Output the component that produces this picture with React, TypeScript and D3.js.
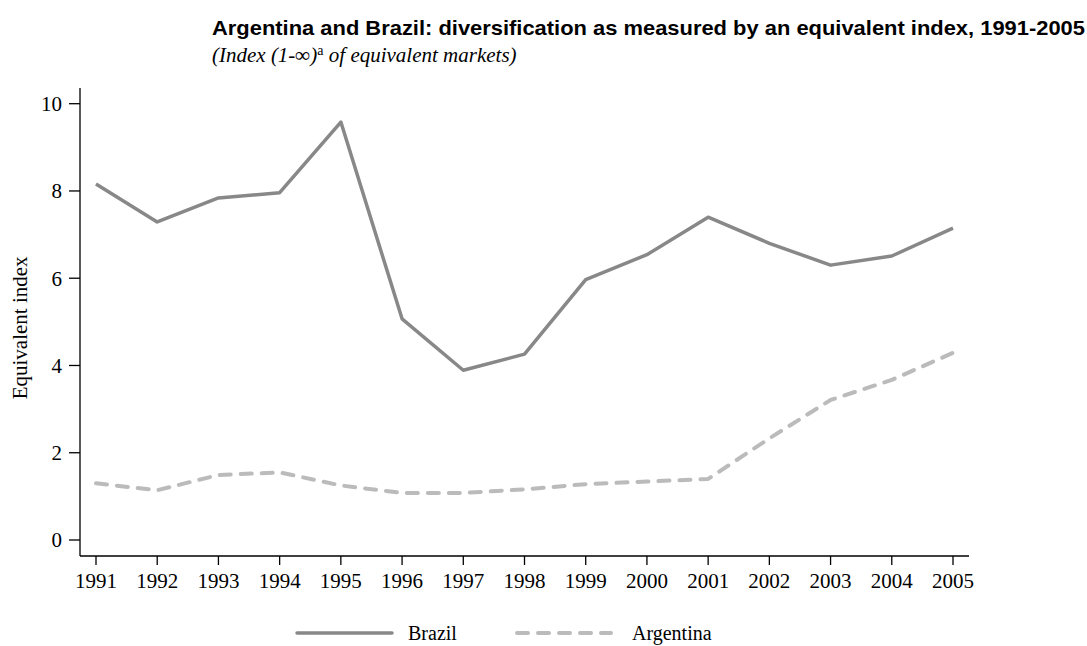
import { useEffect, useRef } from 'react';
import * as d3 from 'd3';

const YEARS = [1991, 1992, 1993, 1994, 1995, 1996, 1997, 1998, 1999, 2000, 2001, 2002, 2003, 2004, 2005];
const BRAZIL = [8.16, 7.29, 7.84, 7.96, 9.58, 5.07, 3.89, 4.26, 5.97, 6.54, 7.4, 6.8, 6.3, 6.51, 7.15];
const ARGENTINA = [1.3, 1.14, 1.49, 1.55, 1.25, 1.08, 1.08, 1.16, 1.28, 1.34, 1.4, 2.33, 3.21, 3.67, 4.29];
const Y_TICKS = [0, 2, 4, 6, 8, 10];

const SERIES = [
  { name: 'Brazil', values: BRAZIL, color: '#888888', width: 3.5, dash: null as string | null },
  { name: 'Argentina', values: ARGENTINA, color: '#bbbbbb', width: 4, dash: '11,10' },
];

const W = 1087;
const H = 646;
const SERIF = '"Liberation Serif", "Times New Roman", serif';
const SANS = '"Liberation Sans", Arial, sans-serif';

export default function App() {
  const svgRef = useRef<SVGSVGElement>(null);

  useEffect(() => {
    if (!svgRef.current) return;
    const svg = d3.select(svgRef.current);
    svg.selectAll('*').remove();

    const x = d3.scaleLinear().domain([1991, 2005]).range([96, 953]);
    const y = d3.scaleLinear().domain([0, 10]).range([540, 103.7]);
    const axisX = 80;
    const axisY = 556;

    // title + subtitle
    svg.append('text')
      .attr('x', 1085)
      .attr('y', 35)
      .attr('text-anchor', 'end')
      .attr('font-family', SANS)
      .attr('font-weight', 'bold')
      .attr('font-size', 21)
      .attr('textLength', 873)
      .attr('lengthAdjust', 'spacingAndGlyphs')
      .attr('fill', '#000')
      .text('Argentina and Brazil: diversification as measured by an equivalent index, 1991-2005');

    const sub = svg.append('text')
      .attr('x', 212)
      .attr('y', 62)
      .attr('font-family', SERIF)
      .attr('font-style', 'italic')
      .attr('font-size', 21)
      .attr('fill', '#000');
    sub.append('tspan').text('(Index (1-∞)');
    sub.append('tspan').attr('font-style', 'normal').attr('font-size', 14).attr('dy', -7).text('a');
    sub.append('tspan').attr('dy', 7).text(' of equivalent markets)');

    // axes
    const axes = svg.append('g').attr('stroke', '#000').attr('stroke-width', 1.3);
    axes.append('line').attr('x1', axisX).attr('x2', axisX).attr('y1', 88).attr('y2', axisY);
    axes.append('line').attr('x1', axisX).attr('x2', 969).attr('y1', axisY).attr('y2', axisY);

    Y_TICKS.forEach(t => {
      axes.append('line').attr('x1', 69).attr('x2', axisX).attr('y1', y(t)).attr('y2', y(t));
      svg.append('text')
        .attr('x', 62)
        .attr('y', y(t))
        .attr('dy', '0.35em')
        .attr('text-anchor', 'end')
        .attr('font-family', SERIF)
        .attr('font-size', 21)
        .text(t);
    });

    YEARS.forEach(yr => {
      axes.append('line').attr('x1', x(yr)).attr('x2', x(yr)).attr('y1', axisY).attr('y2', axisY + 9);
      svg.append('text')
        .attr('x', x(yr))
        .attr('y', 588)
        .attr('text-anchor', 'middle')
        .attr('font-family', SERIF)
        .attr('font-size', 21)
        .text(yr);
    });

    svg.append('text')
      .attr('transform', `translate(27,${(y(0) + y(10)) / 2 + 6}) rotate(-90)`)
      .attr('text-anchor', 'middle')
      .attr('font-family', SERIF)
      .attr('font-size', 21)
      .text('Equivalent index');

    // lines
    const line = d3.line<number>()
      .x((_, i) => x(YEARS[i]))
      .y(d => y(d));

    SERIES.forEach(s => {
      svg.append('path')
        .attr('d', line(s.values))
        .attr('fill', 'none')
        .attr('stroke', s.color)
        .attr('stroke-width', s.width)
        .attr('stroke-linejoin', 'round')
        .attr('stroke-linecap', s.dash ? 'round' : 'butt')
        .attr('stroke-dasharray', s.dash);
    });

    // legend
    const legendItems = [
      { s: SERIES[0], x1: 297, x2: 392, tx: 408 },
      { s: SERIES[1], x1: 517, x2: 611, tx: 632 },
    ];
    legendItems.forEach(li => {
      svg.append('line')
        .attr('x1', li.x1).attr('x2', li.x2)
        .attr('y1', 633).attr('y2', 633)
        .attr('stroke', li.s.color)
        .attr('stroke-width', li.s.width)
        .attr('stroke-linecap', 'round')
        .attr('stroke-dasharray', li.s.dash);
      svg.append('text')
        .attr('x', li.tx)
        .attr('y', 640)
        .attr('font-family', SERIF)
        .attr('font-size', 20)
        .text(li.s.name);
    });
  }, []);

  return (
    <div style={{ position: 'absolute', left: 0, top: 0, background: '#fff' }}>
      <svg ref={svgRef} width={W} height={H} style={{ display: 'block' }} />
    </div>
  );
}
